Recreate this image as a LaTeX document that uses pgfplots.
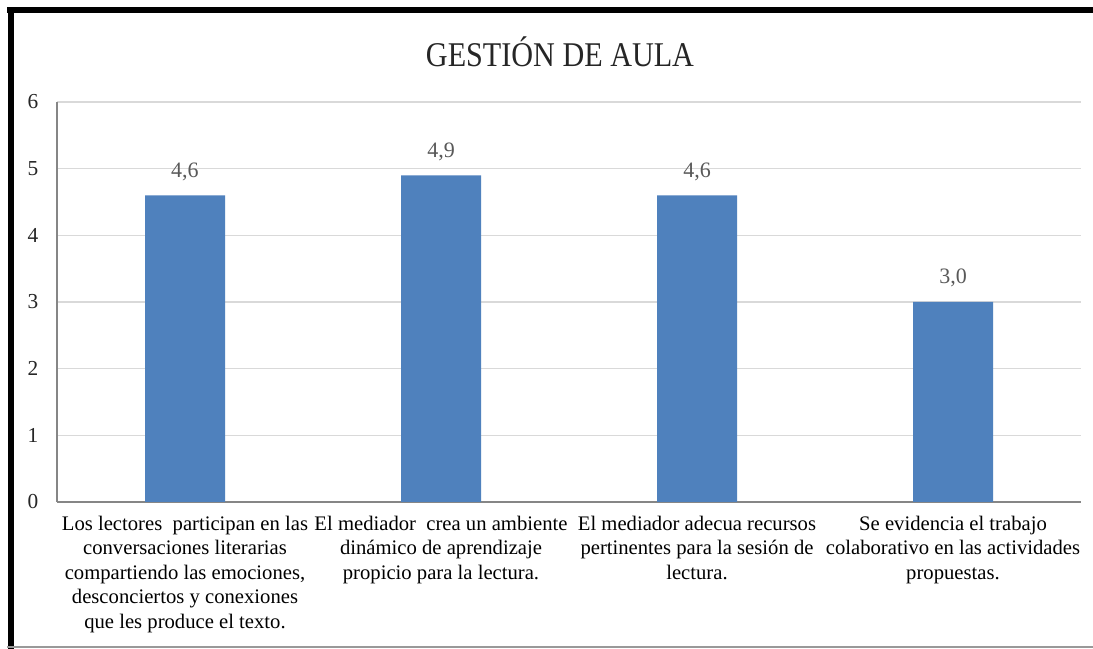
\documentclass[border=0pt]{standalone}
\usepackage{fontspec}
\setmainfont{Liberation Serif}
\newfontfamily\titlefont[FakeStretch=0.87]{Liberation Serif}
\newfontfamily\catfont{Liberation Serif}
\usepackage{pgfplots}
\pgfplotsset{compat=1.18}
\definecolor{barblue}{HTML}{4F81BD}
\definecolor{gridgray}{HTML}{D9D9D9}
\definecolor{axisgray}{HTML}{868686}
\definecolor{labgray}{HTML}{595959}
\begin{document}
\begin{tikzpicture}
\useasboundingbox (0,0) rectangle (819.75pt,486.75pt);
\fill[white] (0,0) rectangle (819.75pt,486.75pt);
\begin{axis}[
  at={(42.75pt,110.25pt)}, anchor=south west,
  scale only axis, width=768pt, height=300pt,
  xmin=-0.5, xmax=3.5, ymin=0, ymax=6,
  ytick={0,1,2,3,4,5,6},
  xtick=data,
  xticklabels={
    {Los lectores \ participan en las\\conversaciones literarias\\compartiendo las emociones,\\desconciertos y conexiones\\que les produce el texto.},
    {El mediador \ crea un ambiente\\dinámico de aprendizaje\\propicio para la lectura.},
    {El mediador adecua recursos\\pertinentes para la sesión de\\lectura.},
    {Se evidencia el trabajo\\colaborativo en las actividades\\propuestas.}},
  xticklabel style={align=center, anchor=north, yshift=-7pt, font=\catfont\fontsize{15.5}{18.4}\selectfont, text=black},
  yticklabel style={anchor=center, xshift=-18pt, font=\fontsize{16}{18}\selectfont, text=black!85},
  /pgf/number format/assume math mode=true,
  axis x line*=bottom, axis y line*=left,
  axis line style={axisgray, line width=1pt, -},
  major tick length=0pt,
  ymajorgrids, grid style={gridgray, line width=0.9pt},
  clip=false,
]
\addplot[ybar, bar width=60pt, fill=barblue, draw=none,
  nodes near coords,
  nodes near coords style={/pgf/number format/.cd, use comma, fixed, fixed zerofill, precision=1, /tikz/.cd, font=\fontsize{16.5}{18}\selectfont, text=labgray, anchor=south, inner sep=0pt, yshift=11pt},
] coordinates {(0,4.6) (1,4.9) (2,4.6) (3,3.0)};
\end{axis}
\node[font=\titlefont\fontsize{26}{30}\selectfont, text=black!85] at (420pt,447.75pt) {GESTIÓN DE AULA};
\draw[black, line width=4.5pt] (5.25pt,479.25pt) -- (819.75pt,479.25pt);
\draw[black, line width=4.5pt] (8.25pt,0pt) -- (8.25pt,481.5pt);
\draw[black!40, line width=1pt] (5.25pt,1.5pt) -- (819.75pt,1.5pt);
\end{tikzpicture}
\end{document}
